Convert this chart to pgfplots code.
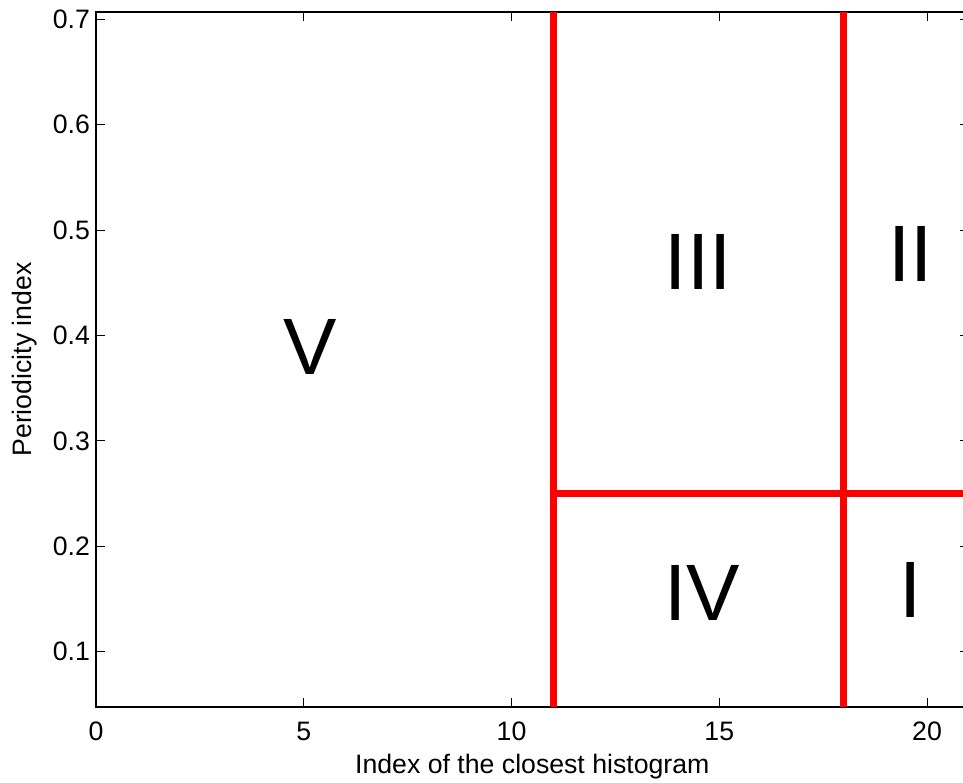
\documentclass[border=0pt]{standalone}
\usepackage{pgfplots}
\pgfplotsset{compat=1.18}
\usepackage{fontspec}
\setmainfont{Liberation Sans}

\begin{document}
\begin{tikzpicture}
\begin{axis}[
  at={(0,0)}, anchor=south west,
  scale only axis,
  width=654.45pt, height=521.25pt,
  xmin=0, xmax=21, ymin=0.0475, ymax=0.707,
  xtick={0,5,10,15,20},
  ytick={0.1,0.2,0.3,0.4,0.5,0.6,0.7},
  yticklabel style={/pgf/number format/fixed, /pgf/number format/precision=1},
  /pgf/number format/assume math mode=true,
  tick align=inside,
  major tick length=6.75pt,
  tick style={black, line width=0.8pt},
  axis line style={black, line width=1.1pt},
  ticklabel style={font=\fontsize{20}{24}\selectfont},
  label style={font=\fontsize{20}{24}\selectfont},
  xticklabel style={anchor=center, yshift=-18pt},
  yticklabel style={xshift=-1pt},
  xlabel={Index of the closest histogram},
  ylabel={Periodicity index},
  xlabel style={at={(axis description cs:0.5,0)}, anchor=center, yshift=-45pt},
  ylabel style={at={(axis description cs:0,0.5)}, anchor=center, yshift=53.25pt},
  clip=true,
]
% region boundaries
\addplot[red, line width=5.2pt] coordinates {(11,0.0475) (11,0.707)};
\addplot[red, line width=5.2pt] coordinates {(18,0.0475) (18,0.707)};
\addplot[red, line width=5.2pt] coordinates {(11,0.25) (21,0.25)};
% region labels
\node[font=\fontsize{60}{60}\selectfont] at (axis cs:5.15,0.389) {V};
\node[font=\fontsize{60}{60}\selectfont] at (axis cs:14.49,0.470) {III};
\node[font=\fontsize{60}{60}\selectfont] at (axis cs:19.6,0.477) {II};
\node[font=\fontsize{60}{60}\selectfont] at (axis cs:14.58,0.156) {IV};
\node[font=\fontsize{60}{60}\selectfont] at (axis cs:19.6,0.159) {I};
\end{axis}
\pgfresetboundingbox
\path[use as bounding box] (-72pt,-56.25pt) rectangle (650.25pt,530.25pt);
\end{tikzpicture}
\end{document}
